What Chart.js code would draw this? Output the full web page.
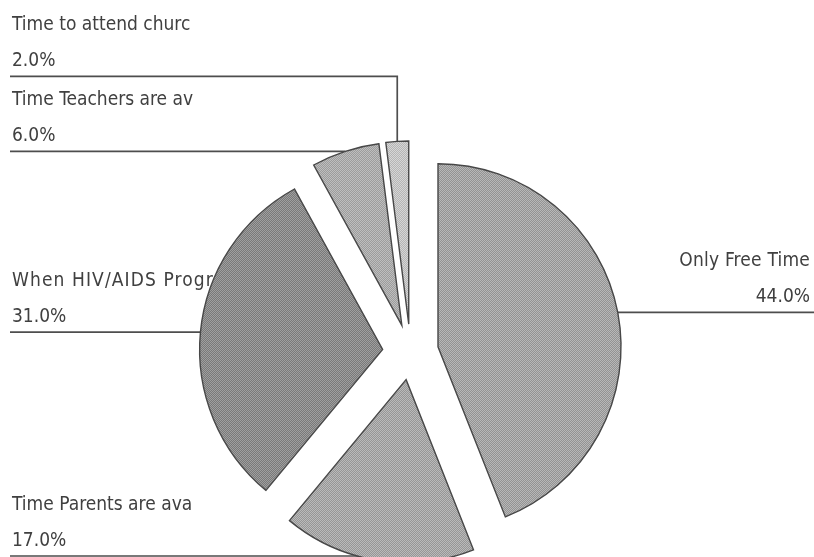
<!DOCTYPE html>
<html>
<head>
<title>Preferred time</title>
<style>
  body { margin: 0; background: #fff; }
  #wrap { width: 814px; height: 557px; }
</style>
</head>
<body>
<div id="wrap"><canvas id="pie"></canvas></div>
<script src="https://cdn.jsdelivr.net/npm/chart.js@4/dist/chart.umd.min.js"></script>
<script>
  // slices run clockwise from 12 o'clock
  const labels = ['Only Free Time', 'Time Parents are ava', 'When HIV/AIDS Progra', 'Time Teachers are av', 'Time to attend churc'];
  const values = [44, 17, 31, 6, 2];

  // two-tone checker per slice (dark, light)
  const tones = [['#939393', '#b8b8b8'], ['#969696', '#bababa'], ['#797979', '#9f9f9f'], ['#9c9c9c', '#bebebe'], ['#b5b5b5', '#d6d6d6']];
  const labelSpacing = [0.2, 0, 1.1, 0, 0];

  const RADIUS = 183;
  const EXPLODE = 28;   // px every slice is pulled away from the centre
  const FONT = '19px "DejaVu Sans Condensed", "DejaVu Sans", sans-serif';

  function checker(a, b) {
    const c = document.createElement('canvas');
    c.width = c.height = 2;
    const g = c.getContext('2d');
    g.fillStyle = a; g.fillRect(0, 0, 2, 2);
    g.fillStyle = b; g.fillRect(0, 0, 1, 1); g.fillRect(1, 1, 1, 1);
    return g.createPattern(c, 'repeat');
  }

  // pull each slice straight out along its middle angle
  const explode = {
    id: 'explode',
    afterDatasetUpdate(chart, args) {
      chart.getDatasetMeta(args.index).data.forEach(arc => {
        const mid = (arc.startAngle + arc.endAngle) / 2;
        arc.x += Math.cos(mid) * EXPLODE;
        arc.y += Math.sin(mid) * EXPLODE;
      });
    }
  };

  // label + value above a leader line, drawn under the pie
  const callouts = {
    id: 'callouts',
    beforeDatasetsDraw(chart) {
      const ctx = chart.ctx;
      const W = chart.width, H = chart.height;
      const items = chart.getDatasetMeta(0).data.map((arc, i) => {
        const mid = (arc.startAngle + arc.endAngle) / 2;
        return { i, x: arc.x + Math.cos(mid) * RADIUS, y: arc.y + Math.sin(mid) * RADIUS, left: Math.cos(mid) < 0 };
      });

      // stack crowded left-hand lines upwards
      const GAP = 75;
      const leftSide = items.filter(o => o.left).sort((a, b) => b.y - a.y);
      leftSide.forEach((o, k) => {
        o.lineY = Math.min(o.y, H - 1);
        if (k > 0) o.lineY = Math.min(o.lineY, leftSide[k - 1].lineY - GAP);
      });
      items.filter(o => !o.left).forEach(o => { o.lineY = Math.min(o.y, H - 1); });

      ctx.save();
      ctx.strokeStyle = '#4e4e4e';
      ctx.lineWidth = 1.7;
      ctx.font = FONT;
      ctx.fillStyle = '#404040';
      ctx.textBaseline = 'alphabetic';
      items.forEach(o => {
        ctx.beginPath();
        if (o.left) {
          if (o.lineY < o.y - 1) {
            ctx.moveTo(o.x, o.y);
            ctx.lineTo(o.x, o.lineY);
          } else {
            ctx.moveTo(o.x, o.lineY);
          }
          ctx.lineTo(10, o.lineY);
        } else {
          ctx.moveTo(o.x, o.lineY);
          ctx.lineTo(W, o.lineY);
        }
        ctx.stroke();

        ctx.letterSpacing = labelSpacing[o.i] + 'px';
        ctx.textAlign = o.left ? 'left' : 'right';
        const tx = o.left ? 12 : W - 4;
        ctx.fillText(labels[o.i], tx, o.lineY - 46);
        ctx.letterSpacing = '0px';
        ctx.fillText(values[o.i].toFixed(1) + '%', tx, o.lineY - 10);
      });
      ctx.restore();
    }
  };

  new Chart(document.getElementById('pie'), {
    type: 'pie',
    data: {
      labels: labels,
      datasets: [{
        data: values,
        backgroundColor: tones.map(t => checker(t[0], t[1])),
        borderColor: '#474747',
        borderWidth: 1.4,
        borderJoinStyle: 'miter',
        radius: RADIUS,
        clip: false
      }]
    },
    options: {
      responsive: true,
      maintainAspectRatio: false,
      animation: false,
      events: [],
      layout: { padding: { left: 7, right: 0, top: 147, bottom: 0 } },
      plugins: {
        legend: { display: false },
        tooltip: { enabled: false }
      }
    },
    plugins: [explode, callouts]
  });
</script>
</body>
</html>
